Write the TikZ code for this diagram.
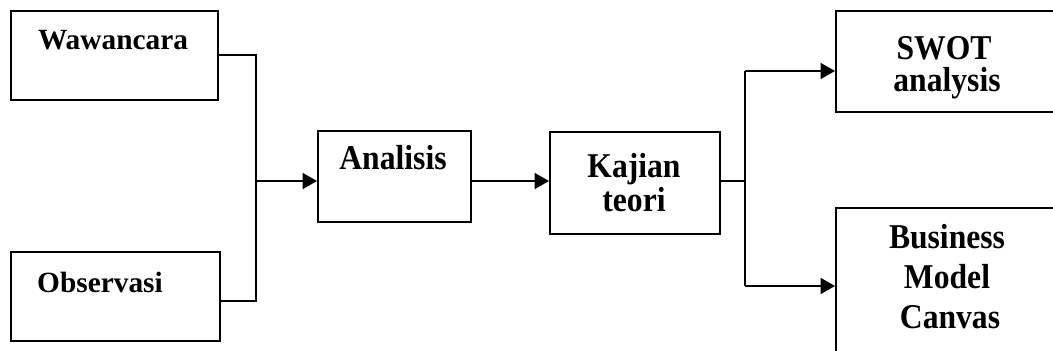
\documentclass[tikz,border=0pt]{standalone}
\usepackage{fontspec}
\setmainfont{Liberation Serif}
\usetikzlibrary{arrows.meta}

\newcommand{\alto}[1]{\scalebox{1}[1.1]{#1}}

\tikzset{
  caja/.style={draw, line width=1.1pt, inner sep=0pt, anchor=north west},
  texto/.style={font=\fontsize{18}{21}\selectfont\bfseries, anchor=base, inner sep=0pt},
  textoizq/.style={texto, font=\fontsize{16.7}{20}\selectfont\bfseries},
  linea/.style={line width=1.1pt},
  flecha/.style={line width=1.1pt, -{Triangle[length=0.29cm, width=0.32cm]}}
}

\begin{document}
\begin{tikzpicture}[x=0.02cm, y=-0.02cm]
            \clip (0,0) rectangle (1053,351);

            % Cajas de entrada
            \node[caja, minimum width=4.14cm, minimum height=1.78cm] (waw) at (10,10) {};
            \node[caja, minimum width=4.18cm, minimum height=1.78cm] (obs) at (10,251) {};
            \node[textoizq] (twaw) at (113,50) {Wawancara};
            \node[textoizq] (tobs) at (100,292) {Observasi};

            % Cajas del centro
            \node[caja, minimum width=3.06cm, minimum height=1.82cm] (ana) at (317,130) {};
            \node[caja, minimum width=3.40cm, minimum height=2.04cm] (kaj) at (549,131) {};
            \node[texto] (tana) at (393,170) {\alto{Analisis}};
            \node[texto] (tkaj) at (634,177) {\alto{Kajian}};
            \node[texto] (tteo) at (634,211) {\alto{teori}};

            % Cajas de salida
            \node[caja, minimum width=4.6cm, minimum height=2.02cm] (swot) at (835,10) {};
            \node[caja, minimum width=4.6cm, minimum height=3.2cm] (bmc) at (835,207) {};
            \node[texto] (tswot) at (944,60) {\alto{SWOT}};
            \node[texto] (tana2) at (947,92) {\alto{analysis}};
            \node[texto] (tbus) at (947,248) {\alto{Business}};
            \node[texto] (tmod) at (947,288) {\alto{Model}};
            \node[texto] (tcan) at (950,328) {\alto{Canvas}};

            % Conectores
            \coordinate (j1) at (256,181);
            \coordinate (j2) at (745,181);
            \coordinate (r1) at (745,71);
            \coordinate (r2) at (745,286);
            \draw[linea] (waw.east) -| (j1) |- ([yshift=-0.09cm]obs.east);
            \draw[flecha] (j1) -- (ana.west |- j1);
            \draw[flecha] (ana.east |- j1) -- (kaj.west |- j1);
            \draw[linea] (kaj.east |- j2) -- (j2);
            \draw[linea] (r1) -- (r2);
            \draw[flecha] (r1) -- (swot.west |- r1);
            \draw[flecha] (r2) -- (bmc.west |- r2);
        \end{tikzpicture}
\end{document}
